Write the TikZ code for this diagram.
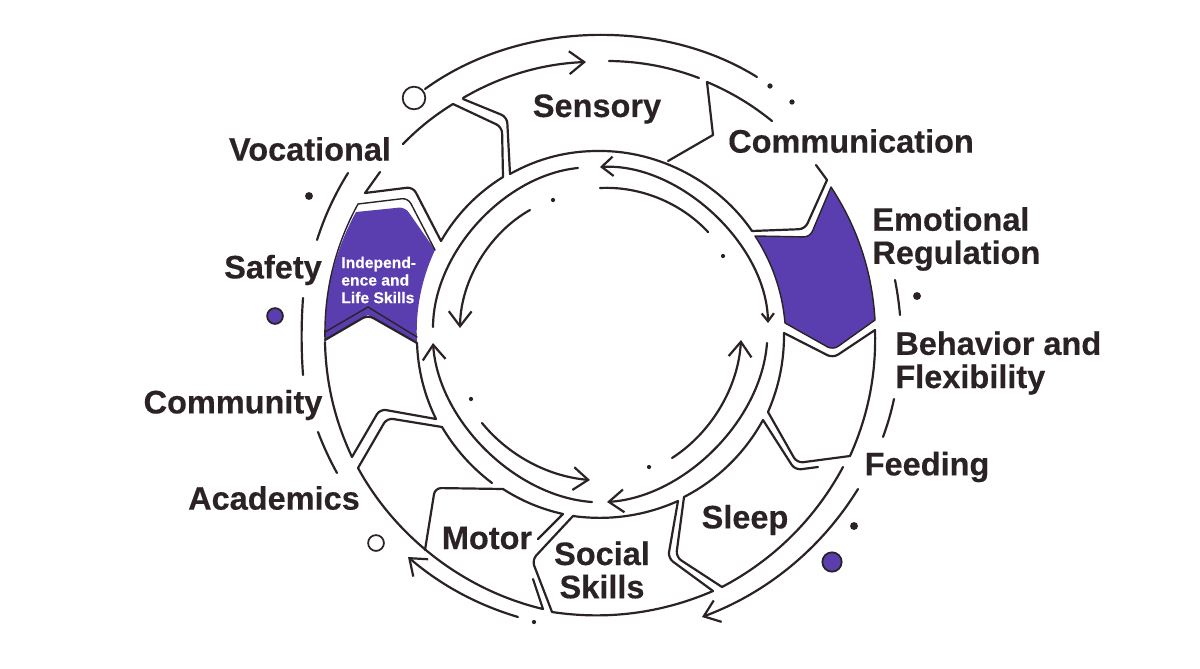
\documentclass[tikz,border=0pt]{standalone}
\usepackage{fontspec}
\setmainfont{Liberation Sans}[BoldFeatures={FakeBold=0.35}]
\usetikzlibrary{arrows.meta}
\definecolor{ink}{HTML}{2A2224}
\definecolor{violet}{HTML}{5A3EB0}
\begin{document}
\begin{tikzpicture}[x=0.02cm,y=-0.02cm,
  every to/.style={looseness=.88},
  line/.style={draw=ink,line width=1.25pt,line cap=round,line join=round},
  rc/.style={rounded corners=3.5pt},
  sc/.style={sharp corners},
  tip/.style={-{Straight Barb[length=8.5pt,width=13pt]}},
  label/.style={text=ink,font=\fontsize{18.5}{18.9}\selectfont\bfseries,inner sep=0pt},
  dot/.style={fill=ink,circle,inner sep=0pt,minimum size=#1},
  ring/.style={circle,draw=ink,fill=#1,line width=1pt,inner sep=0pt},
  fillbox/.style={fill=violet,draw=ink,line width=.8pt,line join=round}]
\useasboundingbox (0,0) rectangle (1200,669);
% purple boxes
\draw[fillbox] (755,236) [rc] -- (810,237) [sc] -- (831,187) to[bend left=15] (875,320) [rc] -- (833,350) [sc] -- (785,323) to[bend right=14] cycle;
\draw[fill=violet,draw=none] (356,212) [rc] -- (405,207) [sc] -- (435,250) to[bend right=14] (417,342) -- (368,315) -- (325,340) to[bend left=15] cycle;
\draw[line,line width=.8pt] (325,332) -- (368,307) -- (417,337);
% outer arcs
\node(start) at (414,98) [ring=white,minimum size=12.9pt]{};
\draw[line] (start) ++(11,-9) to[bend left=34] (757,77);
\draw[line,tip] (463,98) to[bend left=14] (586,62);
\draw[line] (609,61) to[bend left=10] (699,78);
\draw[line] (348,173) to[bend right=7] (317,240);
\draw[line] (303,298) to[bend right=4] (303,375);
\draw[line] (318,432) to[bend right=4] (337,473);
\draw[line,tip] (518,617) to[bend left=12] (408,557);
\draw[line,tip] (858,489) to[bend left=19] (702,617);
\draw[line] (895,280) to[bend left=3] (900,315);
\draw[line] (894,399) to[bend left=4] (883,437);
% sensory and communication
\draw[line] (463,99) [rc] -- (507,117) [sc] -- (510,174);
\draw[line] (510,174) to[bend left=15] (600,151) to[bend left=28] (752,231);
\draw[line] (668,161) -- (713,135) -- (707,82) to[bend left=8] (772,121);
\draw[line] (752,231) [rc] -- (805,229) [sc] -- (827,180) -- (816,165);
% vocational
\draw[line] (403,144) to[bend left=7] (453,104) [rc] -- (502,127) [sc] -- (503,177);
\draw[line] (503,177) to[bend right=14] (441,241);
\draw[line] (380,172) -- (365,193) [rc] -- (413,187) [sc] -- (441,241);
\draw[line,line width=.8pt] (325,340) to[bend left=15] (358,204) [rc] -- (408,198) [sc] -- (435,250);
% behavior
\draw[line] (784,333) [rc] -- (833,358) [sc] -- (875,330) to[bend left=13] (850,456) [rc] -- (797,463) [sc] -- (768,412) to[bend right=12] cycle;
% sleep and social
\draw[line] (818,467) [rc] -- (795,470) [sc] -- (763,420);
\draw[line] (763,420) to[bend left=17] (684,497) [rc] -- (676,557) [sc] -- (722,587);
\draw[line] (722,587) to[bend right=17] (843,467);
\draw[line] (678,501) [rc] -- (668,558) [sc] -- (713,591);
\draw[line] (713,591) to[bend left=16] (552,612) [rc] -- (532,560) [sc] -- (573,516);
\draw[line] (573,516) to[bend right=16] (678,501);
% motor and academics
\draw[line] (538,539) -- (563,514) to[bend left=10] (503,489) [rc] -- (435,488) [sc] -- (425,550);
\draw[line] (358,468) to[bend right=24] (543,609) -- (533,579);
\draw[line] (358,468) [rc] -- (387,418) [sc] -- (442,427);
\draw[line] (442,427) to[bend right=11] (492,483);
% community
\draw[line] (352,457) [rc] -- (380,409) [sc] -- (436,419);
\draw[line] (436,419) to[bend left=12] (417,343) [rc] -- (368,315) [sc] -- (325,340);
\draw[line] (325,342) to[bend right=12] (352,457);
% inner rings
\draw[line,{Straight Barb[length=6.5pt,width=11pt]}-{Straight Barb[length=4.5pt,width=7pt]}] (600,167) to[bend left=46] (768,323);
\draw[line] (578,168) to[bend right=42] (433,327);
\draw[line,tip] (530,210) to[bend right=30] (460,328);
\draw[line] (600,188) to[bend left=25] (708,232);
\draw[line,tip] (592,502) to[bend left=41] (433,343);
\draw[line,tip] (767,343) to[bend left=41] (607,502);
\draw[line,tip] (672,458) to[bend right=27] (741,340);
\draw[line,tip] (482,423) to[bend right=23] (590,480);
% dots
\node(d1) at (770,86) [dot=3pt]{};
\node(d2) at (792,102) [dot=3pt]{};
\node(d3) at (723,256) [dot=2.4pt]{};
\node(d4) at (553,200) [dot=2.4pt]{};
\node(d5) at (309,196) [dot=4.5pt]{};
\node(d6) at (917,296) [dot=4.5pt]{};
\node(d7) at (854,526) [dot=4.5pt]{};
\node(d8) at (649,467) [dot=2.4pt]{};
\node(d9) at (471,399) [dot=2.4pt]{};
\node(d10) at (534,622) [dot=2.4pt]{};
\node(c1) at (275,316) [ring=violet,minimum size=9pt]{};
\node(c2) at (832,562) [ring=violet,minimum size=11pt]{};
\node(c3) at (376,543) [ring=white,minimum size=9pt]{};
% labels
\node(sensory) at (597,109) [label]{Sensory};
\node(communication) at (851,141) [label]{Communication};
\node(emotional) at (872,239) [label,anchor=west,align=left]{Emotional\\Regulation};
\node(behavior) at (895,363) [label,anchor=west,align=left]{Behavior and\\Flexibility};
\node(feeding) at (927,467) [label]{Feeding};
\node(sleep) at (745,520) [label]{Sleep};
\node(social) at (602,570) [label,align=center]{Social\\Skills};
\node(motor) at (487,538) [label]{Motor};
\node(academics) at (274,498) [label]{Academics};
\node(community) at (233,405) [label]{Community};
\node(safety) at (273,270) [label]{Safety};
\node(vocational) at (310,149) [label]{Vocational};
\node(independence) at (341,280) [anchor=west,align=left,inner sep=0pt,text=white,font=\fontsize{8.9}{10}\selectfont\bfseries]{Independ-\\ence and\\Life Skills};
\end{tikzpicture}
\end{document}
